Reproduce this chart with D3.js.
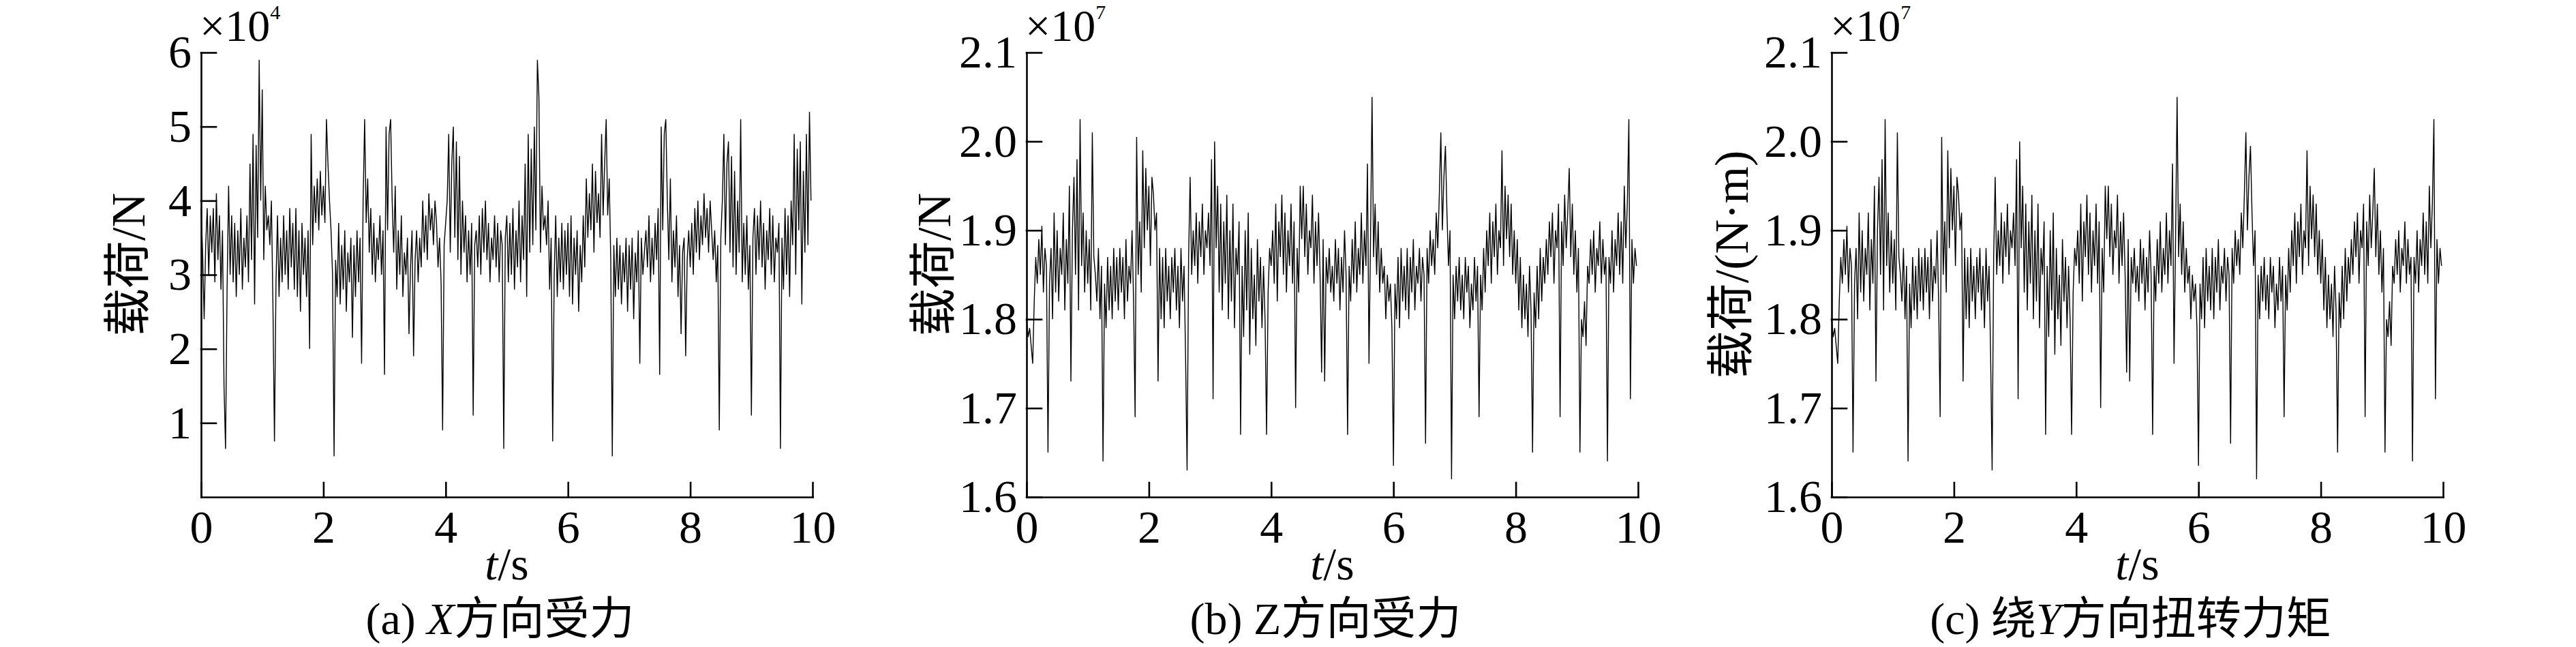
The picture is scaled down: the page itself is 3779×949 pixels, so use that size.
<!DOCTYPE html>
<html>
<head>
<meta charset="utf-8">
<script src="https://cdn.jsdelivr.net/npm/d3@7/dist/d3.min.js"></script>
<style>
  body { margin: 0; background: #fff; }
  text { font-family: "Liberation Serif", "Times New Roman", "Noto Sans CJK SC", serif; fill: #000; }
</style>
</head>
<body>
<svg id="chart" width="3779" height="949"></svg>
<script>
// samples are 0.025 s apart, 20 per row = 0.5 s
const sampleStep = 0.025;
const timeTicks = [0, 2, 4, 6, 8, 10];

// (a) X direction force, x10^4 N
const loadX = [
  3.9, 3.3, 2.4, 3.4, 3.9, 3.0, 3.8, 3.3, 3.9, 2.9, 4.1, 3.2, 3.8, 2.8, 3.6, 1.5, 0.65, 2.8, 4.2, 3.0,
  3.8, 2.9, 3.7, 2.7, 3.6, 3.0, 3.9, 2.8, 3.5, 3.1, 3.8, 2.9, 4.5, 3.2, 4.9, 2.6, 4.75, 3.5, 5.9, 4.0,
  5.5, 3.2, 4.2, 3.6, 3.8, 3.4, 4.0, 2.6, 0.75, 2.9, 3.8, 2.7, 3.5, 2.9, 3.8, 3.0, 3.6, 2.8, 3.9, 3.1,
  3.7, 2.8, 3.9, 2.7, 3.6, 2.5, 3.7, 3.0, 3.5, 2.7, 3.6, 2.0, 4.9, 3.4, 4.2, 3.7, 4.3, 3.6, 4.4, 3.8,
  4.2, 3.7, 5.1, 4.5, 4.0, 3.6, 3.0, 0.55, 3.2, 2.7, 3.7, 2.6, 3.4, 2.8, 3.6, 2.5, 3.3, 2.9, 3.5, 2.15,
  3.4, 2.7, 3.6, 2.9, 3.5, 1.8, 4.0, 5.1, 3.7, 4.3, 3.3, 3.9, 3.0, 3.7, 2.9, 3.5, 3.2, 3.8, 3.0, 3.6,
  1.65, 5.0, 3.6, 4.9, 5.1, 4.0, 3.3, 4.2, 2.8, 3.6, 3.0, 3.8, 2.7, 3.3, 3.0, 3.5, 2.2, 3.1, 3.6, 1.9,
  3.2, 3.6, 2.9, 3.5, 3.1, 4.0, 3.3, 3.8, 3.2, 4.1, 3.6, 3.9, 3.4, 4.0, 3.7, 3.1, 3.5, 2.9, 0.9, 3.4,
  3.7, 4.0, 4.9, 3.3, 4.5, 5.0, 3.5, 4.8, 3.2, 4.6, 3.0, 4.0, 3.3, 3.8, 2.9, 3.6, 3.0, 3.7, 1.1, 3.4,
  3.6, 3.1, 3.8, 3.0, 3.9, 3.3, 4.0, 3.2, 3.7, 2.9, 3.5, 3.2, 3.8, 3.1, 3.7, 2.9, 3.6, 3.4, 0.65, 3.5,
  3.8, 2.9, 3.7, 3.0, 3.9, 2.8, 3.6, 3.1, 4.0, 2.9, 3.8, 3.2, 4.5, 2.7, 4.9, 3.3, 4.7, 3.4, 5.0, 3.6,
  5.9, 5.4, 3.3, 4.2, 3.6, 3.8, 3.4, 4.0, 2.8, 3.5, 0.75, 3.0, 3.8, 2.7, 3.5, 2.9, 3.7, 2.8, 3.6, 3.0,
  3.7, 2.7, 3.8, 2.6, 3.5, 3.0, 3.6, 2.5, 3.4, 2.9, 3.8, 3.1, 4.3, 3.5, 4.1, 3.6, 4.5, 3.3, 4.4, 3.7,
  4.1, 3.5, 4.9, 3.8, 4.5, 5.1, 3.8, 4.3, 3.2, 0.55, 3.4, 2.7, 3.5, 2.8, 3.4, 2.6, 3.3, 2.9, 3.5, 2.5,
  3.4, 2.8, 3.5, 2.4, 3.3, 2.9, 3.6, 1.8, 3.5, 3.0, 3.3, 3.6, 3.1, 3.8, 2.9, 3.5, 3.0, 3.7, 3.2, 3.9,
  1.65, 5.0, 3.6, 4.9, 5.1, 4.0, 3.2, 4.3, 2.9, 3.6, 3.1, 3.8, 2.7, 3.4, 2.2, 3.3, 3.5, 1.9, 3.2, 3.6,
  3.1, 3.7, 3.0, 3.9, 3.3, 4.0, 3.2, 3.8, 3.4, 4.1, 3.5, 3.9, 3.3, 4.0, 3.6, 3.2, 3.6, 2.9, 3.4, 0.9,
  3.5, 4.0, 4.9, 3.4, 4.5, 4.8, 3.3, 4.6, 3.1, 4.4, 3.0, 4.0, 3.3, 5.1, 2.9, 3.7, 3.0, 3.8, 2.8, 3.4,
  1.1, 3.5, 3.9, 3.0, 3.8, 3.2, 4.0, 3.1, 3.7, 2.8, 3.6, 3.2, 3.9, 3.0, 3.8, 2.9, 3.5, 3.3, 3.7, 0.65,
  3.5, 2.8, 3.9, 3.0, 3.8, 2.7, 4.0, 3.4, 4.9, 3.0, 4.7, 3.6, 4.8, 2.6, 4.4, 3.3, 4.9, 3.4, 5.2, 4.0
];

// (b) Z direction force, x10^7 N
const loadZ = [
  1.80, 1.78, 1.79, 1.77, 1.75, 1.82, 1.87, 1.84, 1.89, 1.85, 1.905, 1.83, 1.88, 1.86, 1.65, 1.84, 1.88, 1.80, 1.92, 1.83,
  1.90, 1.82, 1.88, 1.85, 1.92, 1.81, 1.89, 1.84, 1.95, 1.73, 1.90, 1.96, 1.85, 1.98, 1.81, 2.025, 1.86, 1.92, 1.83, 1.90,
  1.84, 1.89, 1.81, 2.01, 1.87, 1.85, 1.82, 1.88, 1.80, 1.86, 1.64, 1.84, 1.79, 1.87, 1.81, 1.86, 1.80, 1.88, 1.82, 1.87,
  1.81, 1.88, 1.83, 1.87, 1.80, 1.89, 1.82, 1.86, 1.84, 1.90, 1.82, 1.69, 2.005, 1.85, 1.91, 1.83, 1.99, 1.88, 1.97, 1.90,
  1.95, 1.86, 1.96, 1.94, 1.90, 1.92, 1.73, 1.88, 1.80, 1.87, 1.79, 1.88, 1.82, 1.86, 1.80, 1.87, 1.83, 1.88, 1.81, 1.86,
  1.79, 1.88, 1.82, 1.86, 1.76, 1.63, 1.87, 1.96, 1.85, 1.90, 1.86, 1.92, 1.84, 1.91, 1.87, 1.93, 1.85, 1.90, 1.88, 1.92,
  1.86, 1.98, 1.71, 2.00, 1.88, 1.95, 1.83, 1.93, 1.81, 1.91, 1.84, 1.94, 1.80, 1.90, 1.82, 1.93, 1.79, 1.88, 1.85, 1.91,
  1.67, 1.86, 1.78, 1.90, 1.81, 1.92, 1.76, 1.88, 1.80, 1.85, 1.77, 1.89, 1.82, 1.87, 1.79, 1.86, 1.80, 1.67, 1.83, 1.88,
  1.86, 1.90, 1.84, 1.93, 1.82, 1.91, 1.87, 1.94, 1.85, 1.92, 1.83, 1.90, 1.86, 1.93, 1.84, 1.91, 1.70, 1.88, 1.83, 1.95,
  1.89, 1.95, 1.87, 1.93, 1.85, 1.90, 1.88, 1.94, 1.84, 1.91, 1.86, 1.92, 1.85, 1.74, 1.89, 1.73, 1.87, 1.84, 1.88, 1.83,
  1.86, 1.82, 1.89, 1.84, 1.88, 1.81, 1.87, 1.83, 1.90, 1.85, 1.67, 1.86, 1.82, 1.89, 1.84, 1.91, 1.83, 1.88, 1.85, 1.92,
  1.84, 1.90, 1.86, 1.975, 1.75, 1.89, 2.05, 1.87, 1.93, 1.85, 1.91, 1.83, 1.88, 1.84, 1.86, 1.80, 1.85, 1.82, 1.84, 1.79,
  1.635, 1.84, 1.80, 1.87, 1.79, 1.88, 1.82, 1.86, 1.81, 1.88, 1.80, 1.87, 1.83, 1.89, 1.81, 1.86, 1.84, 1.88, 1.82, 1.87,
  1.85, 1.66, 1.88, 1.84, 1.90, 1.86, 1.89, 1.85, 1.92, 1.88, 1.94, 2.01, 1.90, 1.96, 1.995, 1.92, 1.86, 1.90, 1.62, 1.85,
  1.80, 1.86, 1.82, 1.87, 1.81, 1.85, 1.80, 1.87, 1.83, 1.86, 1.79, 1.84, 1.81, 1.87, 1.82, 1.86, 1.69, 1.85, 1.81, 1.88,
  1.83, 1.90, 1.86, 1.92, 1.84, 1.91, 1.87, 1.93, 1.85, 1.90, 1.88, 1.99, 1.86, 1.95, 1.89, 1.94, 1.87, 1.93, 1.85, 1.90,
  1.84, 1.89, 1.81, 1.87, 1.79, 1.85, 1.80, 1.84, 1.78, 1.86, 1.81, 1.65, 1.83, 1.79, 1.86, 1.80, 1.88, 1.82, 1.87, 1.84,
  1.89, 1.85, 1.91, 1.87, 1.92, 1.84, 1.90, 1.88, 1.93, 1.69, 1.91, 1.86, 1.94, 1.88, 1.92, 1.97, 1.87, 1.93, 1.85, 1.90,
  1.83, 1.88, 1.65, 1.80, 1.78, 1.82, 1.77, 1.86, 1.84, 1.89, 1.85, 1.90, 1.83, 1.88, 1.86, 1.91, 1.84, 1.89, 1.85, 1.87,
  1.64, 1.87, 1.84, 1.90, 1.83, 1.89, 1.86, 1.92, 1.85, 1.91, 1.84, 1.95, 1.88, 1.93, 2.025, 1.71, 1.89, 1.84, 1.88, 1.86
];

// (c) torque about Y, x10^7 N*m -- the plotted record is the same as (b)
const torqueY = loadZ;

const xTickLabels = ["0", "2", "4", "6", "8", "10"];
const yTicksA = [1, 2, 3, 4, 5, 6];
const yTicksBC = [1.6, 1.7, 1.8, 1.9, 2.0, 2.1];

const panels = [
  { values: loadX, left: 295, domain: [0, 6], ticks: yTicksA, fmt: d3.format("d"), exp: "4",
    ylabel: "载荷/N", ylabelX: 212, cap: ["(a) ", "X", "方向受力"], capItalic: true },
  { values: loadZ, left: 1506, domain: [1.6, 2.1], ticks: yTicksBC, fmt: d3.format(".1f"), exp: "7",
    ylabel: "载荷/N", ylabelX: 1394, cap: ["(b) ", "Z", "方向受力"], capItalic: false },
  { values: torqueY, left: 2687, domain: [1.6, 2.1], ticks: yTicksBC, fmt: d3.format(".1f"), exp: "7",
    ylabel: "载荷/(N·m)", ylabelX: 2564, cap: ["(c) 绕", "Y", "方向扭转力矩"], capItalic: true }
];

const plotTop = 77, plotBottom = 729, plotW = 897;
const fontSize = 68;
const serif = '"Liberation Serif", "Times New Roman", "Noto Sans CJK SC", serif';

const svg = d3.select("#chart").style("font-family", serif);
svg.append("rect").attr("width", 3779).attr("height", 949).attr("fill", "#fff");

panels.forEach(p => {
  const x = d3.scaleLinear().domain([0, 10]).range([p.left, p.left + plotW]);
  const y = d3.scaleLinear().domain(p.domain).range([plotBottom, plotTop]);
  const g = svg.append("g");

  const line = d3.line()
    .x((d, i) => x(i * sampleStep))
    .y(d => y(d));

  g.append("path")
    .datum(p.values)
    .attr("fill", "none")
    .attr("stroke", "#000")
    .attr("stroke-width", 1.4)
    .attr("stroke-linejoin", "bevel")
    .attr("d", line);

  const yAxis = g.append("g")
    .attr("transform", `translate(${p.left},0)`)
    .call(d3.axisLeft(y).tickValues(p.ticks).tickFormat(p.fmt)
      .tickSizeInner(-22).tickSizeOuter(0).tickPadding(14));

  const xAxis = g.append("g")
    .attr("transform", `translate(0,${plotBottom})`)
    .call(d3.axisBottom(x).tickValues(timeTicks).tickFormat((d, i) => xTickLabels[i])
      .tickSizeInner(-21).tickSizeOuter(0).tickPadding(19));

  [yAxis, xAxis].forEach(a => {
    a.attr("font-size", null).attr("font-family", null);
    a.selectAll("text").style("font-size", fontSize + "px").style("font-family", serif);
    a.selectAll("path, line").attr("stroke", "#000").attr("stroke-width", 2.6)
      .attr("stroke-linecap", "square");
  });

  // exponent above the y axis
  const ex = g.append("text")
    .attr("x", p.left - 2)
    .attr("y", 60)
    .style("font-size", "66px");
  ex.append("tspan").text("×10");
  ex.append("tspan").attr("dy", -32).style("font-size", "30px").text(p.exp);

  // y label
  g.append("text")
    .attr("transform", `translate(${p.ylabelX},388) rotate(-90)`)
    .attr("text-anchor", "middle")
    .style("font-size", "70px")
    .text(p.ylabel);

  const cx = p.left + plotW / 2;

  // x label
  const xl = g.append("text")
    .attr("x", cx).attr("y", 850)
    .attr("text-anchor", "middle")
    .style("font-size", fontSize + "px");
  xl.append("tspan").style("font-style", "italic").text("t");
  xl.append("tspan").text("/s");

  // caption
  const cap = g.append("text")
    .attr("x", cx - 10).attr("y", 930)
    .attr("text-anchor", "middle")
    .style("font-size", "66px");
  cap.append("tspan").text(p.cap[0]);
  cap.append("tspan").style("font-style", p.capItalic ? "italic" : "normal").text(p.cap[1]);
  cap.append("tspan").text(p.cap[2]);
});
</script>
</body>
</html>
